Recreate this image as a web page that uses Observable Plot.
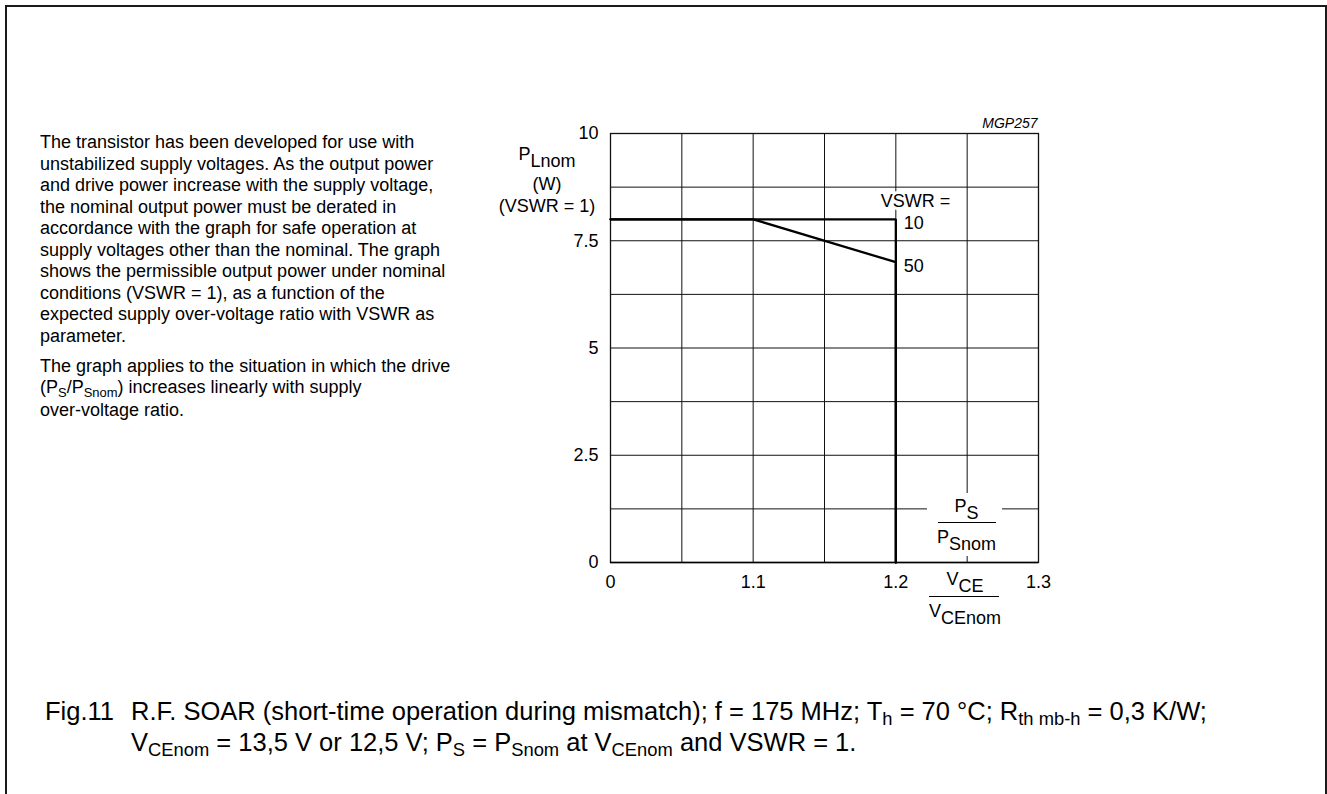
<!DOCTYPE html>
<html>
<head>
<meta charset="utf-8">
<script src="https://cdn.jsdelivr.net/npm/d3@7"></script>
<script src="https://cdn.jsdelivr.net/npm/@observablehq/plot@0.6"></script>
<style>
  html, body { margin: 0; padding: 0; background: #fff; }
  body { font-family: "Liberation Sans", Arial, Helvetica, sans-serif; color: #000; }
  #page { position: relative; width: 1327px; height: 794px; overflow: hidden; background: #fff; }
  #border { position: absolute; left: 5px; top: 5px; width: 1318px; height: 900px; border: 2px solid #1a1a1a; }
  #chart { position: absolute; left: 0; top: 0; }
  .abs { position: absolute; white-space: nowrap; }
  .lbl { font-size: 18px; line-height: 18px; }
  .sd { position: relative; top: 7px; }
  .sub { font-size: 0.72em; position: relative; top: 0.3em; }
  #body-text { left: 40px; top: 132px; font-size: 18px; line-height: 21.5px; }
  #body-text p { margin: 0; }
  #body-text p + p { margin-top: 8.5px; }
  .cap { font-size: 25.5px; line-height: 29px; top: 696.7px; }
  .bar { position: absolute; height: 1.4px; background: #000; }
</style>
</head>
<body>
<div id="page">
  <div id="border"></div>
  <div id="chart"></div>

  <div id="body-text" class="abs">
    <p>The transistor has been developed for use with<br>unstabilized supply voltages. As the output power<br>and drive power increase with the supply voltage,<br>the nominal output power must be derated in<br>accordance with the graph for safe operation at<br>supply voltages other than the nominal. The graph<br>shows the permissible output power under nominal<br>conditions (VSWR = 1), as a function of the<br>expected supply over-voltage ratio with VSWR as<br>parameter.</p>
    <p>The graph applies to the situation in which the drive<br>(P<span class="sub">S</span>/P<span class="sub">Snom</span>) increases linearly with supply<br>over-voltage ratio.</p>
  </div>

  <!-- y axis title -->
  <div class="abs lbl" style="left:447px;width:200px;text-align:center;top:144.8px">P<span class="sd">Lnom</span></div>
  <div class="abs lbl" style="left:447px;width:200px;text-align:center;top:175.3px">(W)</div>
  <div class="abs lbl" style="left:447px;width:200px;text-align:center;top:197.3px">(VSWR = 1)</div>

  <!-- P_S / P_Snom -->
  <div class="abs" style="left:927px;top:493px;width:75px;height:63px;background:#fff">
    <div class="abs lbl" style="left:0;width:79px;text-align:center;top:3.5px">P<span class="sd">S</span></div>
    <div class="bar" style="left:10.5px;width:58px;top:29px"></div>
    <div class="abs lbl" style="left:0;width:79px;text-align:center;top:35.1px">P<span class="sd">Snom</span></div>
  </div>

  <!-- V_CE / V_CEnom -->
  <div class="abs lbl" style="left:865px;width:200px;text-align:center;top:569.8px">V<span class="sd">CE</span></div>
  <div class="bar" style="left:929px;width:70px;top:596px"></div>
  <div class="abs lbl" style="left:865px;width:200px;text-align:center;top:601.5px">V<span class="sd">CEnom</span></div>

  <!-- caption -->
  <div class="abs cap" style="left:45px">Fig.11</div>
  <div class="abs cap" style="left:131px">R.F. SOAR (short-time operation during mismatch); f = 175 MHz; T<span class="sub">h</span> = 70 °C; R<span class="sub">th mb-h</span> = 0,3 K/W;<br>V<span class="sub">CEnom</span> = 13,5 V or 12,5 V; P<span class="sub">S</span> = P<span class="sub">Snom</span> at V<span class="sub">CEnom</span> and VSWR = 1.</div>
</div>

<script>
// ---- data ----
const xTicks = [1.0, 1.1, 1.2, 1.3];
const xTickLabels = ["0", "1.1", "1.2", "1.3"];
const yTicks = [0, 2.5, 5, 7.5, 10];
const yTickLabels = ["0", "2.5", "5", "7.5", "10"];
const xGrid = [1.0, 1.05, 1.1, 1.15, 1.2, 1.25, 1.3];
const yGrid = [0, 1.25, 2.5, 3.75, 5, 6.25, 7.5, 8.75, 10];

const vswr10X = [1.0, 1.2, 1.2];
const vswr10Y = [8, 8, 0];
const vswr50X = [1.0, 1.1, 1.2, 1.2];
const vswr50Y = [8, 8, 7, 0];
const curveNames = ["10", "50"];
const paramLabel = "VSWR =";
const figId = "MGP257";

// ---- build ----
const toPts = (xs, ys) => xs.map((x, i) => ({x, y: ys[i]}));
const s10 = toPts(vswr10X, vswr10Y);
const s50 = toPts(vswr50X, vswr50Y);
const labelPts = [
  {x: vswr10X[1], y: vswr10Y[1], t: curveNames[0]},
  {x: vswr50X[2], y: vswr50Y[2], t: curveNames[1]}
];

const chart = Plot.plot({
  width: 1327,
  height: 640,
  marginTop: 133,
  marginLeft: 610,
  marginRight: 289,
  marginBottom: 78,
  style: {background: "transparent", fontFamily: "'Liberation Sans', Arial, sans-serif", fontSize: "18px", color: "#000", overflow: "visible"},
  x: {type: "linear", domain: [xTicks[0], xTicks[xTicks.length - 1]], ticks: xTicks,
      tickFormat: d => xTickLabels[xTicks.findIndex(t => Math.abs(t - d) < 1e-9)],
      tickSize: 0, tickPadding: 13, label: null},
  y: {domain: [yTicks[0], yTicks[yTicks.length - 1]], ticks: yTicks,
      tickFormat: d => yTickLabels[yTicks.indexOf(d)],
      tickSize: 0, tickPadding: 12, label: null},
  marks: [
    Plot.ruleX(xGrid, {stroke: "#111", strokeWidth: 1}),
    Plot.ruleY(yGrid, {stroke: "#111", strokeWidth: 1}),
    Plot.frame({stroke: "#111", strokeWidth: 1.3}),
    Plot.ruleY([yTicks[0]], {stroke: "#000", strokeWidth: 1.7}),
    Plot.line(s10, {x: "x", y: "y", stroke: "#000", strokeWidth: 2.3, strokeLinejoin: "miter"}),
    Plot.line(s50, {x: "x", y: "y", stroke: "#000", strokeWidth: 2.3, strokeLinejoin: "miter"}),
    Plot.text([labelPts[0]], {x: "x", y: "y", text: () => paramLabel, textAnchor: "start", lineAnchor: "bottom",
      dx: -15, dy: -12, fontSize: 18, fill: "#000", stroke: "#fff", strokeWidth: 6}),
    Plot.text(labelPts, {x: "x", y: "y", text: "t", textAnchor: "start", lineAnchor: "bottom",
      dx: 8, dy: 10, fontSize: 18, fill: "#000"}),
    Plot.text([figId], {frameAnchor: "top-right", textAnchor: "end", lineAnchor: "bottom",
      dx: -1, dy: -6, fontSize: 14, fontStyle: "italic", fill: "#000"})
  ]
});
document.getElementById("chart").appendChild(chart);
</script>
</body>
</html>
